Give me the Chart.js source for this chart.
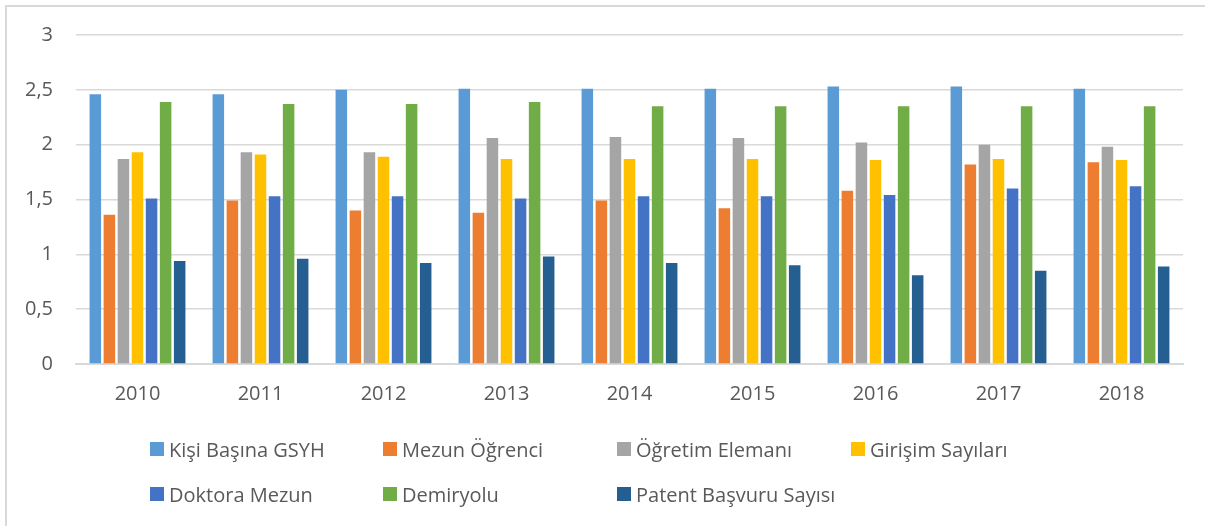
<!DOCTYPE html>
<html>
<head>
<meta charset="utf-8">
<script src="https://cdn.jsdelivr.net/npm/chart.js@4/dist/chart.umd.min.js"></script>
<style>
  html, body { margin: 0; padding: 0; background: #fff; overflow: hidden; }
  body { width: 1205px; height: 526px; position: relative; font-family: "Open Sans", sans-serif; }
  #frame { position: absolute; left: 5px; top: 5px; width: 1300px; height: 600px;
           border: 2px solid #d9d9d9; box-sizing: border-box; }
  #wrap { position: absolute; left: 0; top: 0; width: 1205px; height: 420px; }
  #legend { position: absolute; left: 0; top: 0; width: 1205px; height: 526px; pointer-events: none; }
  .item { position: absolute; height: 24px; display: flex; align-items: center;
          font-size: 20px; color: #595959; white-space: nowrap; }
  .item .box { width: 14px; height: 14px; margin-right: 5px; flex: none; }
</style>
</head>
<body>
<div id="frame"></div>
<div id="wrap"><canvas id="chart"></canvas></div>
<div id="legend"></div>
<script>
  // values
  const years = ['2010', '2011', '2012', '2013', '2014', '2015', '2016', '2017', '2018'];
  const yTicks = [0, 0.5, 1, 1.5, 2, 2.5, 3];

  const kisiBasinaGsyh = [2.46, 2.46, 2.50, 2.51, 2.51, 2.51, 2.53, 2.53, 2.51];
  const mezunOgrenci   = [1.36, 1.49, 1.40, 1.38, 1.49, 1.42, 1.58, 1.82, 1.84];
  const ogretimElemani = [1.87, 1.93, 1.93, 2.06, 2.07, 2.06, 2.02, 2.00, 1.98];
  const girisimSayilari = [1.93, 1.91, 1.89, 1.87, 1.87, 1.87, 1.86, 1.87, 1.86];
  const doktoraMezun   = [1.51, 1.53, 1.53, 1.51, 1.53, 1.53, 1.54, 1.60, 1.62];
  const demiryolu      = [2.39, 2.37, 2.37, 2.39, 2.35, 2.35, 2.35, 2.35, 2.35];
  const patentBasvuru  = [0.94, 0.96, 0.92, 0.98, 0.92, 0.90, 0.81, 0.85, 0.89];

  const seriesNames = ['Kişi Başına GSYH', 'Mezun Öğrenci', 'Öğretim Elemanı', 'Girişim Sayıları',
                       'Doktora Mezun', 'Demiryolu', 'Patent Başvuru Sayısı'];
  const seriesValues = [kisiBasinaGsyh, mezunOgrenci, ogretimElemani, girisimSayilari,
                        doktoraMezun, demiryolu, patentBasvuru];
  const seriesColors = ['#5B9BD5', '#ED7D31', '#A5A5A5', '#FFC000', '#4472C4', '#70AD47', '#255E91'];

  const TEXT = '#595959';
  const GRID = '#d9d9d9';
  const FONT = { family: '"Open Sans", sans-serif', size: 20 };

  new Chart(document.getElementById('chart'), {
    type: 'bar',
    data: {
      labels: years,
      datasets: seriesNames.map((name, i) => ({
        label: name,
        data: seriesValues[i],
        backgroundColor: seriesColors[i],
        borderWidth: 0,
        categoryPercentage: 0.8,
        barPercentage: 0.82,
      })),
    },
    options: {
      responsive: true,
      maintainAspectRatio: false,
      animation: false,
      events: [],
      layout: { padding: { top: 35, right: 22, left: 0, bottom: 0 } },
      plugins: { legend: { display: false }, tooltip: { enabled: false } },
      scales: {
        x: {
          grid: { display: false, drawTicks: false },
          border: { display: true, color: GRID, width: 2 },
          ticks: { color: TEXT, font: FONT, padding: 18, maxRotation: 0 },
          afterFit: (s) => { s.height = 56; },
        },
        y: {
          min: 0,
          max: 3,
          afterBuildTicks: (s) => { s.ticks = yTicks.map((v) => ({ value: v })); },
          grid: { color: GRID, lineWidth: 1.5, drawTicks: false },
          border: { display: false },
          ticks: {
            color: TEXT,
            font: FONT,
            padding: 23,
            callback: (v) => String(v).replace('.', ','),
          },
          afterFit: (s) => { s.width = 76; },
        },
      },
    },
  });

  // legend laid out on Excel's 4-column grid
  const legendCols = [150, 383, 617, 851];
  const legendRows = [437, 482];
  const legend = document.getElementById('legend');
  seriesNames.forEach((name, i) => {
    const el = document.createElement('div');
    el.className = 'item';
    el.style.left = legendCols[i % 4] + 'px';
    el.style.top = legendRows[Math.floor(i / 4)] + 'px';
    const box = document.createElement('span');
    box.className = 'box';
    box.style.background = seriesColors[i];
    const txt = document.createElement('span');
    txt.textContent = name;
    el.appendChild(box);
    el.appendChild(txt);
    legend.appendChild(el);
  });
</script>
</body>
</html>
